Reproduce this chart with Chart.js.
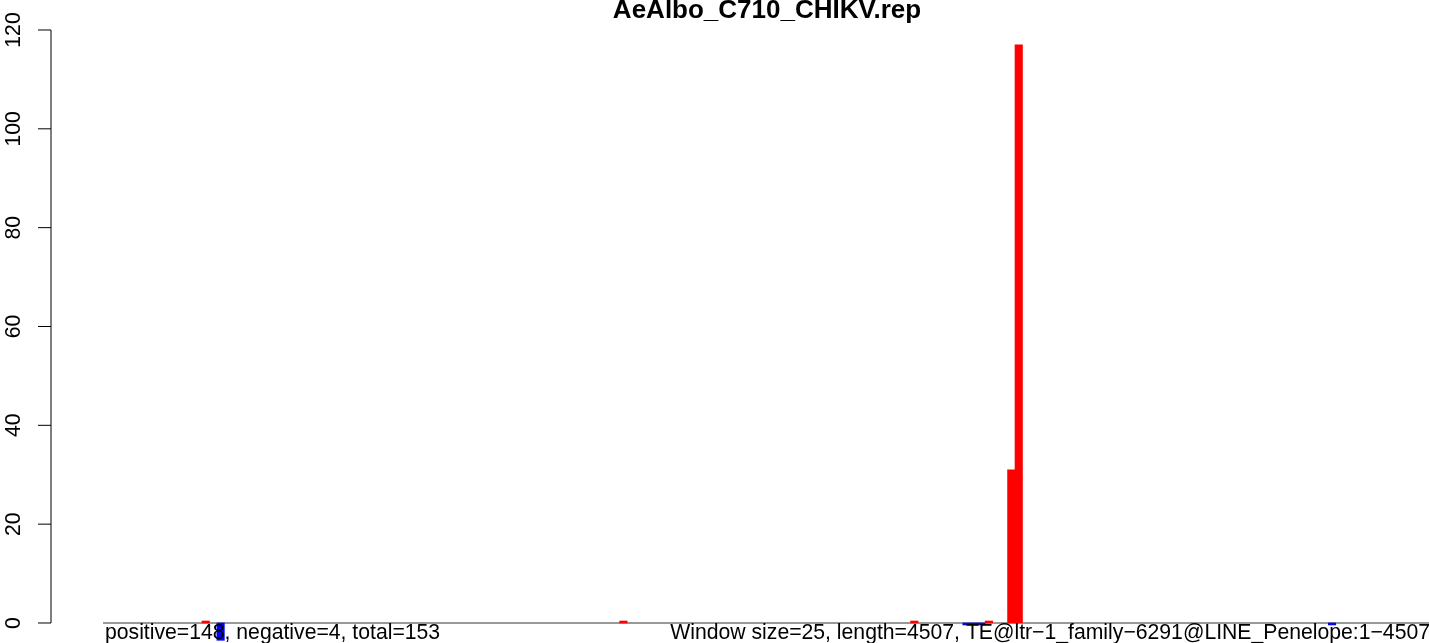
<!DOCTYPE html>
<html>
<head>
<meta charset="utf-8">
<script src="https://cdn.jsdelivr.net/npm/chart.js@4/dist/chart.umd.min.js"></script>
<style>
  html, body { margin: 0; padding: 0; background: #fff; overflow: hidden; }
  #grafico { display: block; }
</style>
</head>
<body>
<canvas id="grafico" width="1429" height="643"></canvas>
<script>
// bins of 25 bp along the 4507 bp element (index of window)
var posBins = [13, 69, 108, 118, 121, 122];
var posVals = [0.4, 0.4, 0.4, 0.4, 31, 117];
var negBins = [15, 115, 116, 117, 164];
var negVals = [-3.5, -0.4, -0.4, -0.4, -0.4];
var yTicks = [0, 20, 40, 60, 80, 100, 120];

var titulo = "AeAlbo_C710_CHIKV.rep";
var textoEsq = "positive=148, negative=4, total=153";
var textoDir = "Window size=25, length=4507, TE@ltr\u22121_family\u22126291@LINE_Penelope:1\u22124507";

var fonte = "'Liberation Sans', Arial, Helvetica, sans-serif";

function pontos(bins, vals) {
  var lista = [];
  bins.forEach((b, i) => {
    lista.push({ x: b + 0.5, y: vals[i] });
  });
  return lista;
}

// baseline grey line at y = 0
var linhaBase = {
  id: "linhaBase",
  beforeDatasetsDraw(chart) {
    var ctx = chart.ctx;
    var y = chart.scales.y.getPixelForValue(0);
    ctx.save();
    ctx.strokeStyle = "#999999";
    ctx.lineWidth = 2;
    ctx.beginPath();
    ctx.moveTo(chart.chartArea.left - 2, y);
    ctx.lineTo(chart.chartArea.right, y);
    ctx.stroke();
    ctx.restore();
  },
};

// R style y axis, title and margin texts
var eixoR = {
  id: "eixoR",
  afterDraw(chart) {
    var ctx = chart.ctx;
    var esc = chart.scales.y;
    var ax = 51;
    ctx.save();
    ctx.strokeStyle = "#000";
    ctx.lineWidth = 1;
    ctx.beginPath();
    ctx.moveTo(ax, esc.getPixelForValue(yTicks[0]));
    ctx.lineTo(ax, esc.getPixelForValue(yTicks[yTicks.length - 1]));
    yTicks.forEach((v) => {
      var py = esc.getPixelForValue(v);
      ctx.moveTo(ax - 13, py);
      ctx.lineTo(ax, py);
    });
    ctx.stroke();

    ctx.fillStyle = "#000";
    ctx.font = "21.2px " + fonte;
    ctx.textAlign = "center";
    ctx.textBaseline = "alphabetic";
    yTicks.forEach((v) => {
      var py = esc.getPixelForValue(v);
      ctx.save();
      ctx.translate(20, py);
      ctx.rotate(-Math.PI / 2);
      ctx.fillText(String(v), 0, 0);
      ctx.restore();
    });

    ctx.textAlign = "left";
    ctx.fillText(textoEsq, 105, 639);
    ctx.textAlign = "right";
    ctx.fillText(textoDir, 1430, 639);

    ctx.font = "bold 26px " + fonte;
    ctx.textAlign = "center";
    ctx.fillText(titulo, 767, 18);
    ctx.restore();
  },
};

new Chart(document.getElementById("grafico"), {
  type: "bar",
  data: {
    datasets: [
      {
        label: "positive",
        data: pontos(posBins, posVals),
        backgroundColor: "#FF0000",
      },
      {
        label: "negative",
        data: pontos(negBins, negVals),
        backgroundColor: "#0000FF",
      },
    ],
  },
  options: {
    responsive: false,
    animation: false,
    layout: {
      padding: { left: 105, right: 0, top: 29, bottom: 0 },
    },
    datasets: {
      bar: {
        grouped: false,
        barPercentage: 1,
        categoryPercentage: 1,
        borderWidth: 0,
      },
    },
    plugins: {
      legend: { display: false },
      tooltip: { enabled: false },
      title: { display: false },
    },
    scales: {
      x: {
        type: "linear",
        min: 0,
        max: 177.5,
        offset: false,
        display: false,
      },
      y: {
        min: -4.05,
        max: 120.2,
        display: false,
      },
    },
  },
  plugins: [linhaBase, eixoR],
});
</script>
</body>
</html>
